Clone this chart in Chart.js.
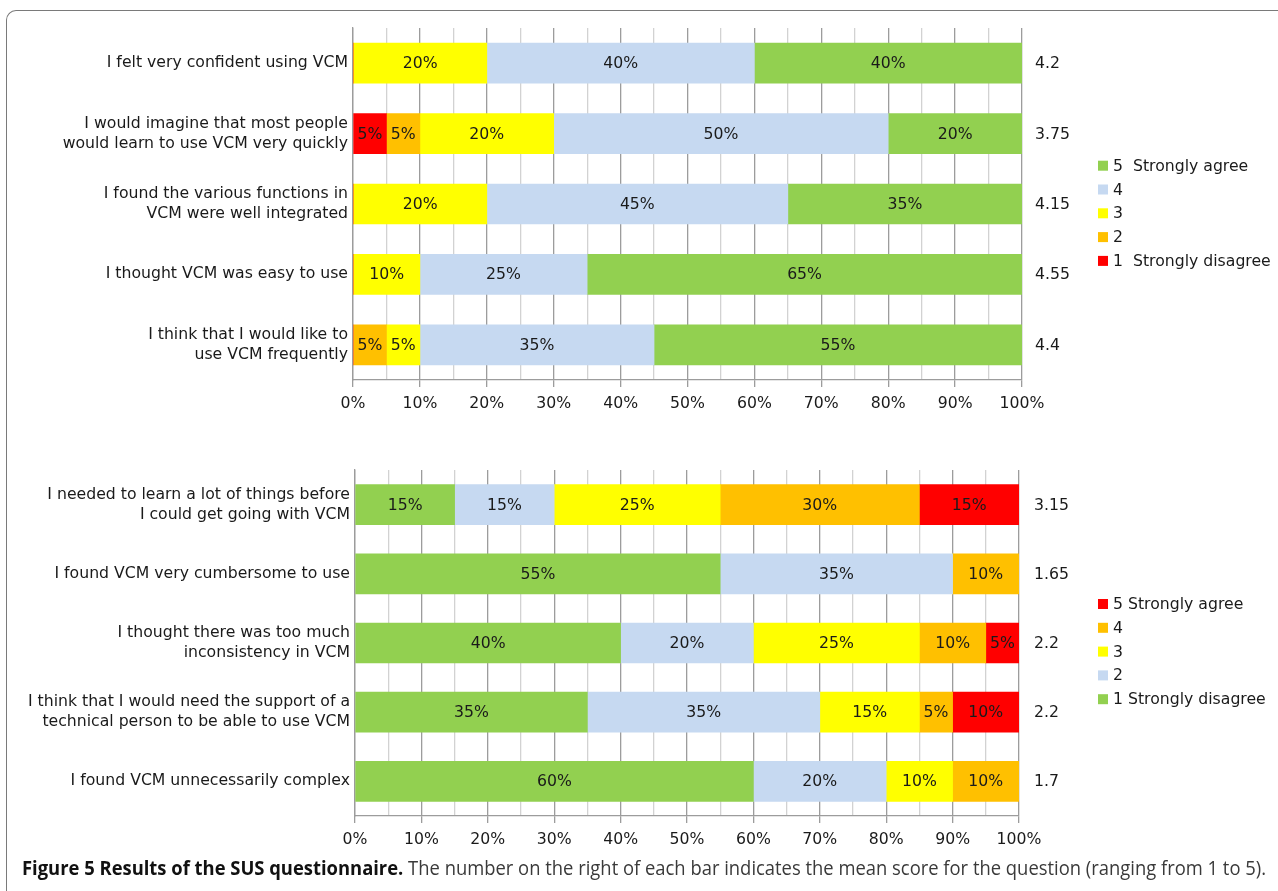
<!DOCTYPE html>
<html>
<head>
<meta charset="utf-8">
<script src="https://cdn.jsdelivr.net/npm/chart.js@4.4.1/dist/chart.umd.min.js"></script>
<style>
  html, body { margin:0; padding:0; background:#fff; }
  body { width:1278px; height:891px; position:relative; overflow:hidden; }
  #frame { position:absolute; left:6px; top:10px; width:1400px; height:1000px;
           border-left:1.5px solid #7a7a7a; border-top:1.5px solid #7a7a7a; border-top-left-radius:10px; }
  canvas { position:absolute; left:0; }
  #c1 { top:0; }
  #c2 { top:440px; }
  #caption { position:absolute; left:22px; top:854px; white-space:nowrap; transform-origin:0 0;
             font-family:"Liberation Sans Narrow","Open Sans","Liberation Sans",sans-serif; font-size:20px; color:#3a3a3a; }
  #caption b { color:#111; }
</style>
</head>
<body>
<div id="frame"></div>
<canvas id="c1" width="1278" height="420"></canvas>
<canvas id="c2" width="1278" height="420"></canvas>
<div id="caption"><b>Figure 5 Results of the SUS questionnaire.</b> The number on the right of each bar indicates the mean score for the question (ranging from 1 to 5).</div>
<script>
// ---------- data ----------
const colGreen = '#92D050', colBlue = '#C6D9F1', colYellow = '#FFFF00', colOrange = '#FFC000', colRed = '#FF0000';

const posQuestions = [
  'I felt very confident using VCM',
  ['I would imagine that most people', 'would learn to use VCM very quickly'],
  ['I found the various functions in', 'VCM were well integrated'],
  'I thought VCM was easy to use',
  ['I think that I would like to', 'use VCM frequently']
];
const posScore1 = [0, 5, 0, 0, 0];
const posScore2 = [0, 5, 0, 0, 5];
const posScore3 = [20, 20, 20, 10, 5];
const posScore4 = [40, 50, 45, 25, 35];
const posScore5 = [40, 20, 35, 65, 55];
const posMeans = ['4.2', '3.75', '4.15', '4.55', '4.4'];
const posLegend = ['5  Strongly agree', '4', '3', '2', '1  Strongly disagree'];

const negQuestions = [
  ['I needed to learn a lot of things before', 'I could get going with VCM'],
  'I found VCM very cumbersome to use',
  ['I thought there was too much', 'inconsistency in VCM'],
  ['I think that I would need the support of a', 'technical person to be able to use VCM'],
  'I found VCM unnecessarily complex'
];
const negScore1 = [15, 55, 40, 35, 60];
const negScore2 = [15, 35, 20, 35, 20];
const negScore3 = [25, 0, 25, 15, 10];
const negScore4 = [30, 10, 10, 5, 10];
const negScore5 = [15, 0, 5, 10, 0];
const negMeans = ['3.15', '1.65', '2.2', '2.2', '1.7'];
const negLegend = ['5 Strongly agree', '4', '3', '2', '1 Strongly disagree'];

const xTicks = [0, 10, 20, 30, 40, 50, 60, 70, 80, 90, 100];

// ---------- chart factory ----------
const FONT = '"DejaVu Sans", "Liberation Sans", sans-serif';
const FS = 15.7;
const TXT = '#1a1a1a';

function makeChart(id, labels, series, colors, means, legendTexts, legendColors, cfg) {
  const overlay = {
    id: 'overlay' + id,
    afterDatasetsDraw(chart) {
      const ctx = chart.ctx;
      ctx.save();
      ctx.font = FS + 'px ' + FONT;
      ctx.fillStyle = TXT;
      ctx.textBaseline = 'middle';
      ctx.textAlign = 'center';
      chart.data.datasets.forEach((ds, di) => {
        const meta = chart.getDatasetMeta(di);
        meta.data.forEach((bar, i) => {
          const v = ds.data[i];
          if (!v) return;
          ctx.fillText(v + '%', (bar.x + bar.base) / 2, bar.y + 1);
        });
      });
      // means
      ctx.textAlign = 'left';
      const ys = chart.scales.y;
      means.forEach((m, i) => {
        ctx.fillText(m, chart.chartArea.right + cfg.meanGap, ys.getPixelForValue(i) + 1);
      });
      // legend
      legendTexts.forEach((t, i) => {
        const cy = cfg.legendTop + i * 23.8;
        ctx.fillStyle = legendColors[i];
        ctx.fillRect(1098, cy - 5, 10, 10);
        ctx.fillStyle = TXT;
        ctx.fillText(t, 1113, cy + 1);
      });
      ctx.restore();
    }
  };
  return new Chart(document.getElementById(id), {
    type: 'bar',
    data: {
      labels: labels,
      datasets: series.map((d, i) => ({
        data: d, backgroundColor: colors[i], borderWidth: 0, barThickness: 40
      }))
    },
    options: {
      indexAxis: 'y',
      responsive: false,
      animation: false,
      layout: { padding: { top: cfg.top, right: cfg.right, left: 0, bottom: 0 } },
      plugins: { legend: { display: false }, tooltip: { enabled: false } },
      scales: {
        x: {
          stacked: true, min: 0, max: 100,
          afterBuildTicks(scale) {
            const t = [];
            for (let v = 0; v <= 100; v += 5) t.push({ value: v });
            scale.ticks = t;
          },
          afterFit(scale) { scale.height = cfg.xHeight; },
          ticks: {
            autoSkip: false, maxRotation: 0, padding: 8,
            font: { family: FONT, size: FS }, color: TXT,
            callback: v => xTicks.includes(v) ? v + '%' : ''
          },
          grid: {
            color: c => (c.tick && c.tick.value % 10 === 0) ? '#9c9c9c' : '#d2d2d2',
            tickColor: c => (c.tick && c.tick.value % 10 === 0) ? '#9c9c9c' : 'rgba(0,0,0,0)',
            tickLength: 7, lineWidth: 1.3
          },
          border: { display: true, color: '#9c9c9c', width: 1.3 }
        },
        y: {
          stacked: true,
          afterFit(scale) { scale.width = cfg.left; },
          grid: { display: false, drawTicks: false },
          border: { display: true, color: '#9c9c9c', width: 1.3 },
          ticks: { font: { family: FONT, size: FS, lineHeight: 1.28 }, color: TXT, padding: 5 }
        }
      }
    },
    plugins: [overlay]
  });
}

makeChart('c1', posQuestions,
  [posScore1, posScore2, posScore3, posScore4, posScore5],
  [colRed, colOrange, colYellow, colBlue, colGreen],
  posMeans, posLegend, [colGreen, colBlue, colYellow, colOrange, colRed],
  { top: 28, right: 256, left: 353, xHeight: 40, meanGap: 13, legendTop: 165.7 });

makeChart('c2', negQuestions,
  [negScore1, negScore2, negScore3, negScore4, negScore5],
  [colGreen, colBlue, colYellow, colOrange, colRed],
  negMeans, negLegend, [colRed, colOrange, colYellow, colBlue, colGreen],
  { top: 30, right: 259, left: 355, xHeight: 44, meanGap: 15, legendTop: 164 });

// fit caption width
const cap = document.getElementById('caption');
const w = cap.getBoundingClientRect().width;
cap.style.transform = 'scaleX(' + (1244 / w) + ')';
</script>
</body>
</html>
